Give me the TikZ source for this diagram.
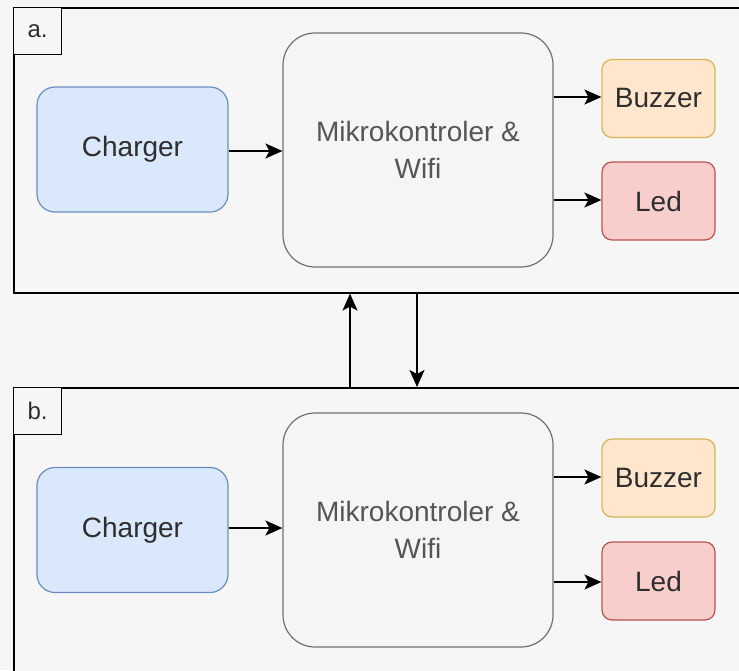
\documentclass[tikz,border=0pt]{standalone}
\usepackage{fontspec}
\setmainfont{Liberation Sans}
\usetikzlibrary{arrows.meta,positioning,calc}
\definecolor{bg}{HTML}{F6F6F6}
\definecolor{chfill}{HTML}{DAE8FC}
\definecolor{chdraw}{HTML}{6C8EBF}
\definecolor{bzfill}{HTML}{FFE6CC}
\definecolor{bzdraw}{HTML}{D6B656}
\definecolor{ledfill}{HTML}{F8CECC}
\definecolor{leddraw}{HTML}{B85450}
\definecolor{mkfill}{HTML}{F7F4F4}
\definecolor{mkdraw}{HTML}{707070}
\definecolor{txt}{HTML}{2E2E2E}
\definecolor{mktxt}{HTML}{555555}
\tikzset{
  frame/.style={draw=black, line width=1.6pt, fill=bg, anchor=north west, minimum width=760pt, minimum height=285pt, inner sep=0pt},
  lbl/.style={draw=black, line width=1.2pt, fill=bg, anchor=north west, minimum width=48pt, minimum height=47pt, inner sep=0pt, font=\fontsize{24}{28}\selectfont, text=txt},
  charger/.style={draw=chdraw, fill=chfill, line width=1.2pt, rounded corners=18pt, minimum width=191pt, minimum height=125pt, font=\fontsize{28}{34}\selectfont, text=txt},
  mikro/.style={draw=mkdraw, fill=mkfill, line width=1.2pt, rounded corners=32pt, minimum width=270pt, minimum height=234pt, align=center, font=\fontsize{28}{37}\selectfont, text=mktxt},
  buzzer/.style={draw=bzdraw, fill=bzfill, line width=1.2pt, rounded corners=10pt, minimum width=113pt, minimum height=78pt, font=\fontsize{28}{34}\selectfont, text=txt},
  led/.style={draw=leddraw, fill=ledfill, line width=1.2pt, rounded corners=10pt, minimum width=113pt, minimum height=78pt, font=\fontsize{28}{34}\selectfont, text=txt},
  arr/.style={draw=black, line width=1.6pt, -{Stealth[length=17pt,width=15pt,inset=4pt]}}
}
\begin{document}
\begin{tikzpicture}[x=1pt,y=-1pt]
\useasboundingbox (0,0) rectangle (739,670);
\clip (0,0) rectangle (739,670);
\fill[bg] (0,0) rectangle (739,670);
% frames
\node[frame] (fa) at (13,7) {};
\node[frame, minimum height=300pt] (fb) at (13,387) {};
\node[lbl] (la) at (fa.north west) {a.};
\node[lbl] (lb) at (fb.north west) {b.};
% panel a
\node[charger] (cha) at (132.5,149.5) {Charger};
\node[mikro] (mka) at (418,150) {Mikrokontroler \&\\Wifi};
\node[buzzer] (bza) at (658.5,98.5) {Buzzer};
\node[led] (lda) at (658.5,201) {Led};
\draw[arr] (cha.east |- 0,151) -- (mka.west |- 0,151);
\draw[arr] (mka.east |- 0,97) -- (bza.west |- 0,97);
\draw[arr] (mka.east |- 0,200) -- (lda.west |- 0,200);
% panel b
\node[charger] (chb) at (132.5,530) {Charger};
\node[mikro] (mkb) at (418,530) {Mikrokontroler \&\\Wifi};
\node[buzzer] (bzb) at (658.5,478) {Buzzer};
\node[led] (ldb) at (658.5,581) {Led};
\draw[arr] (chb.east |- 0,528) -- (mkb.west |- 0,528);
\draw[arr] (mkb.east |- 0,477) -- (bzb.west |- 0,477);
\draw[arr] (mkb.east |- 0,582) -- (ldb.west |- 0,582);
% links between frames
\coordinate (up) at (350,0);
\coordinate (dn) at (417,0);
\draw[arr] (up |- fb.north) -- (up |- fa.south);
\draw[arr] (dn |- fa.south) -- (dn |- fb.north);
\end{tikzpicture}
\end{document}
